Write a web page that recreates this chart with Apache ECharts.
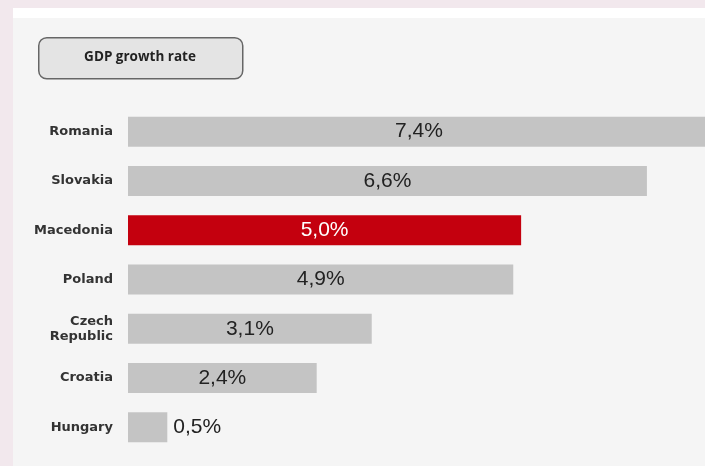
<!DOCTYPE html>
<html><head><meta charset="utf-8">
<script src="https://cdn.jsdelivr.net/npm/echarts@6/dist/echarts.min.js"></script>
<style>
html,body{margin:0;padding:0;background:#f2e8ed;overflow:hidden;width:705px;height:466px;}
#wrap{position:absolute;left:13px;top:8px;width:692px;height:458px;background:#ffffff;}
#chart{position:absolute;left:0;top:0;width:780px;height:466px;}
</style></head>
<body>
<div id="wrap"></div>
<div id="chart"></div>
<script>
const categories = ['Romania','Slovakia','Macedonia','Poland','Czech\nRepublic','Croatia','Hungary'];
const values = [7.4, 6.6, 5.0, 4.9, 3.1, 2.4, 0.5];
const highlight = 'Macedonia';
const titleText = 'GDP growth rate';

const chart = echarts.init(document.getElementById('chart'), null, {renderer:'canvas'});
const data = values.map((v,i)=>{
  const hl = categories[i] === highlight;
  const small = v < 1;
  return {
    value: v,
    itemStyle: {color: hl ? '#c4000e' : '#c4c4c4'},
    label: {
      position: small ? 'right' : 'inside',
      color: hl ? '#ffffff' : '#222222',
      distance: 6
    }
  };
});
chart.setOption({
  animation:false,
  backgroundColor:'transparent',
  graphic:[
    {type:'rect', left:13, top:18, shape:{width:767, height:448}, style:{fill:'#f5f5f5'}, z:-10, silent:true},
    {type:'rect', left:38, top:37, shape:{width:204, height:41, r:8}, style:{fill:'#e4e4e4', stroke:'#666666', lineWidth:1.5}},
    {type:'text', x:140, y:57, style:{text:titleText, fill:'#222', font:'bold 13.5px "Open Sans", Arial, sans-serif', align:'center', verticalAlign:'middle'}}
  ],
  grid:{left:128, width:629, top:107, height:345, containLabel:false},
  xAxis:{type:'value', min:0, max:8, show:false},
  yAxis:{type:'category', data:categories, inverse:true,
    axisLine:{show:false}, axisTick:{show:false},
    axisLabel:{color:'#333', fontWeight:'bold', fontSize:13, fontFamily:'"DejaVu Sans", Verdana, sans-serif', margin:15, lineHeight:15}
  },
  series:[{
    type:'bar', data:data, barWidth:30,
    label:{show:true, fontSize:21, fontFamily:'Arial, "Liberation Sans", sans-serif',
      formatter:p=>p.value.toFixed(1).replace('.',',')+'%'}
  }]
});
</script>
</body></html>
